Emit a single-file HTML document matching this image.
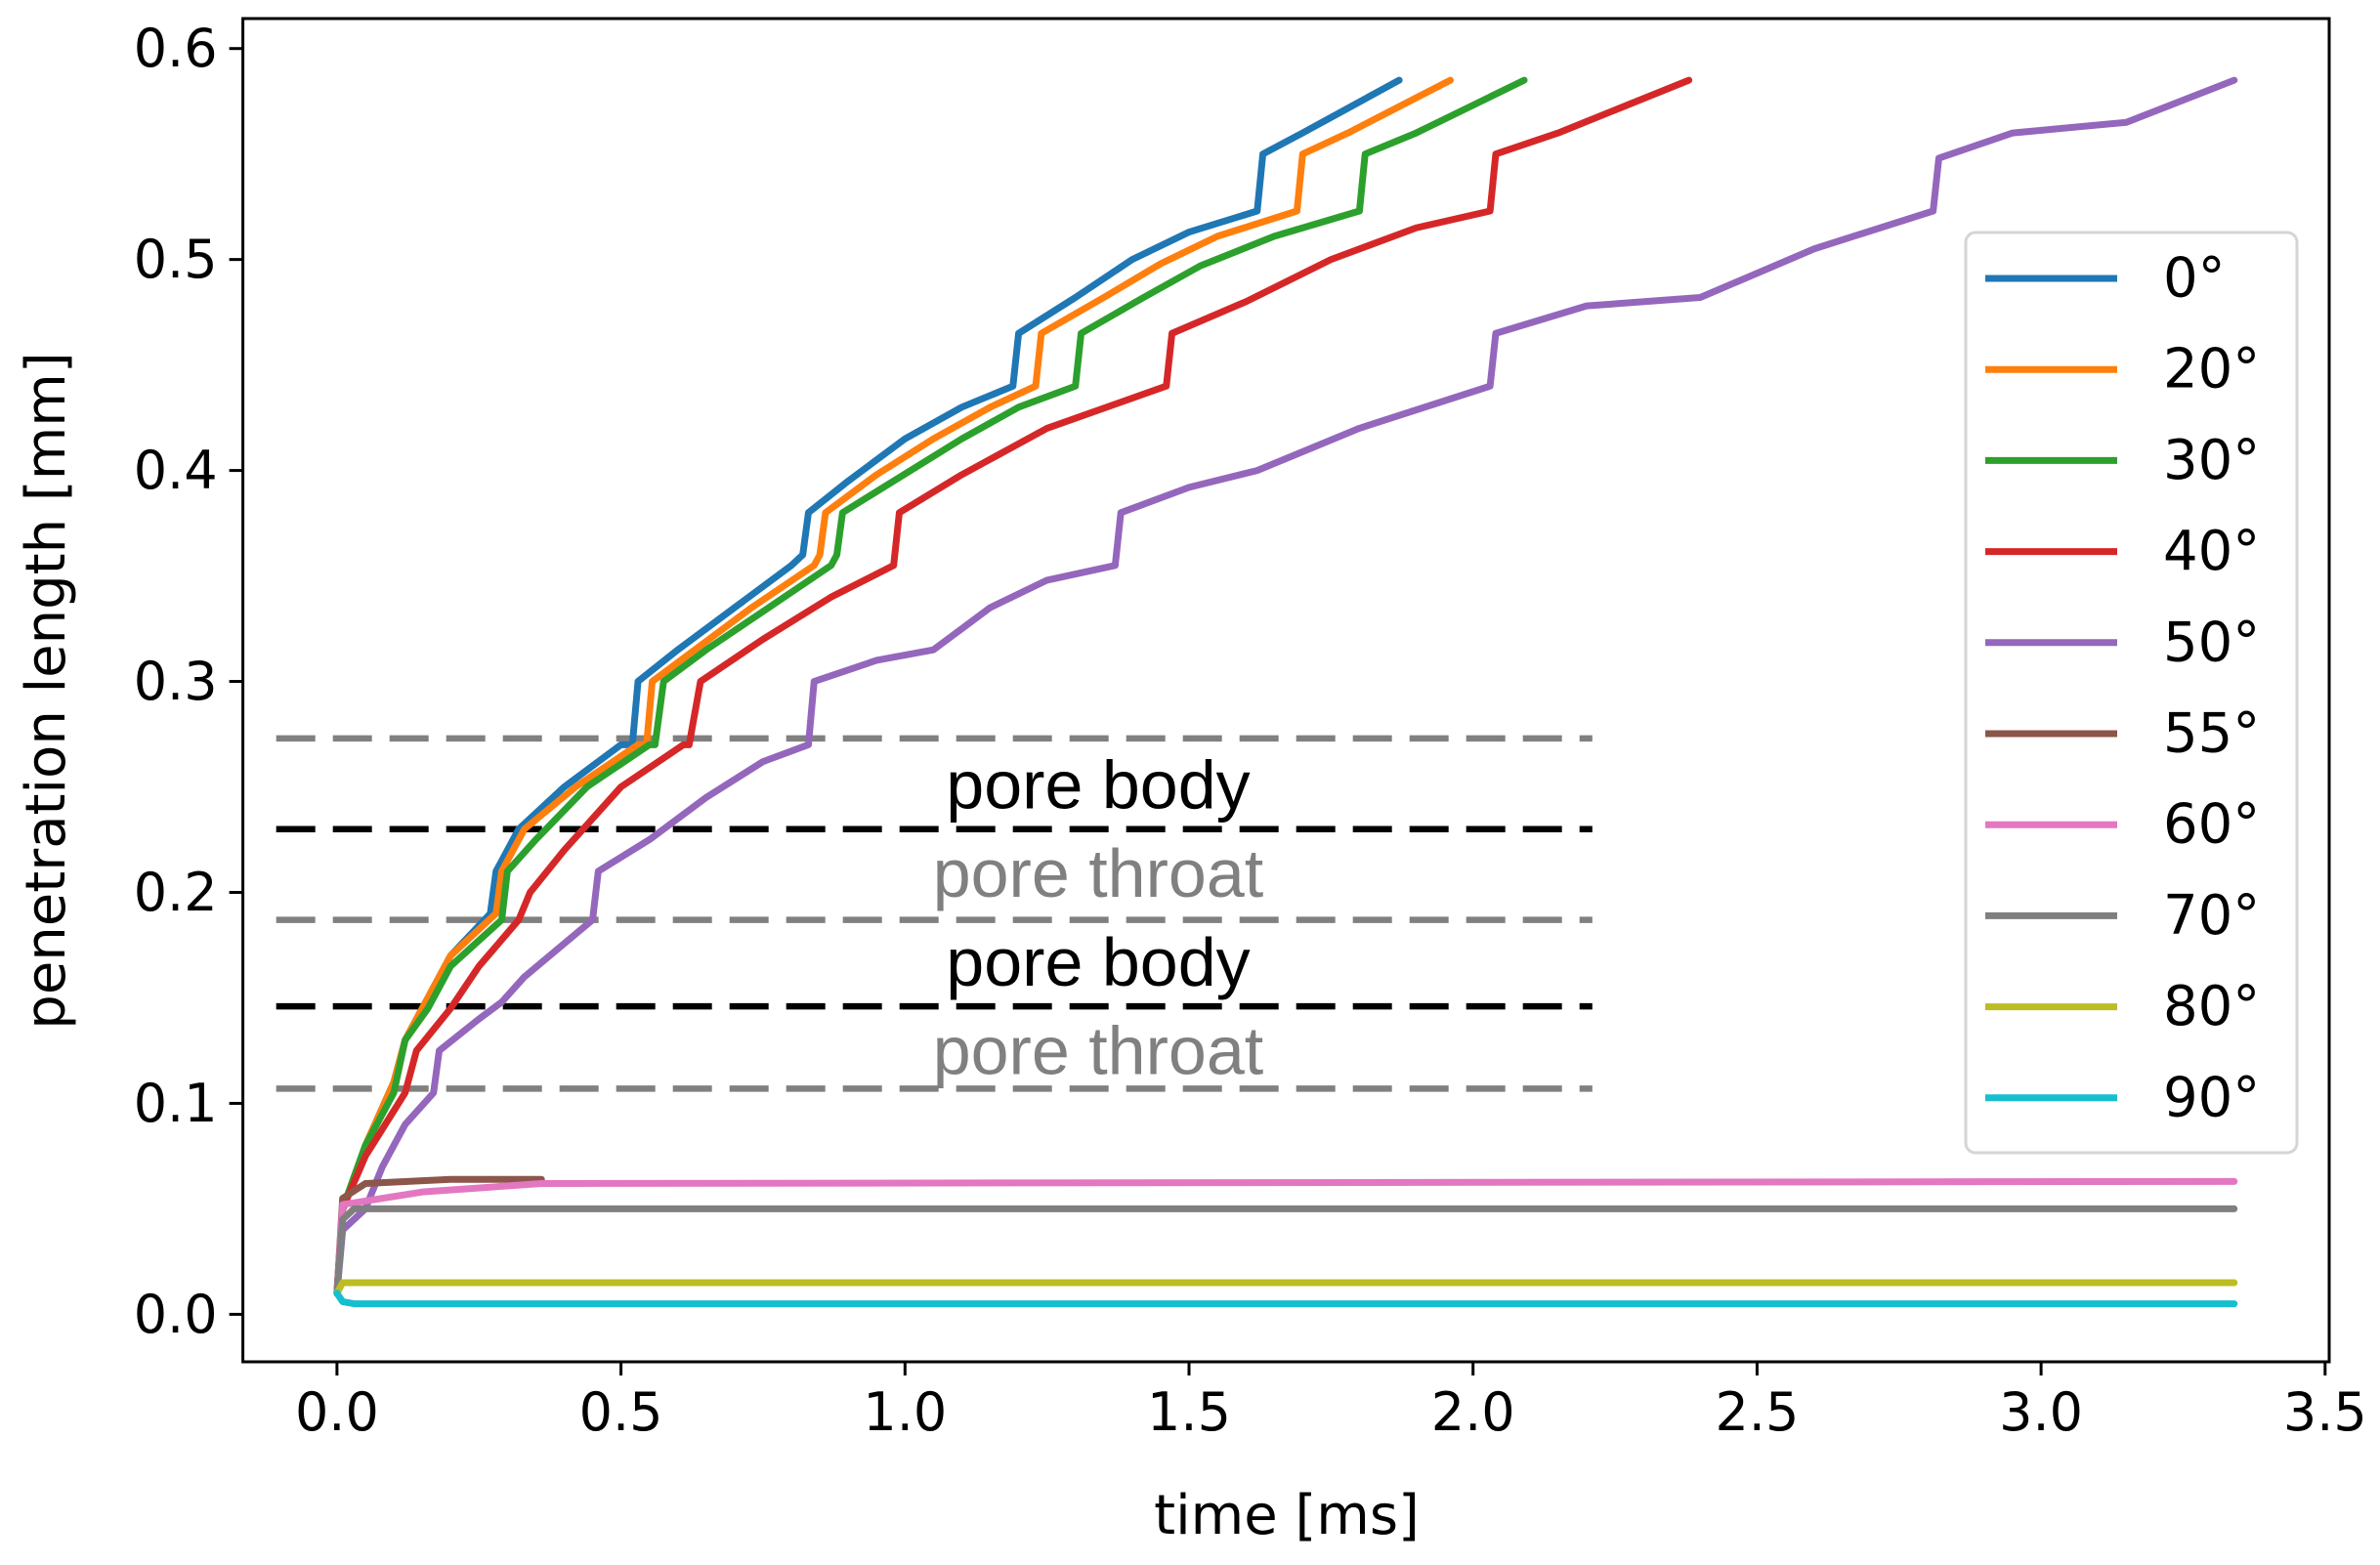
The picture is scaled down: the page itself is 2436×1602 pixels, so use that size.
<!DOCTYPE html>
<html><head><meta charset="utf-8"><style>
html,body{margin:0;padding:0;background:#fff;}
svg{display:block;font-family:"DejaVu Sans","Liberation Sans",sans-serif;}
</style></head><body>
<svg id="chart" width="2436" height="1602" viewBox="0 0 2436 1602" xmlns="http://www.w3.org/2000/svg"></svg>
<script>
const xTicks=[0.0,0.5,1.0,1.5,2.0,2.5,3.0,3.5];
const xTickLabels=["0.0","0.5","1.0","1.5","2.0","2.5","3.0","3.5"];
const yTicks=[0.0,0.1,0.2,0.3,0.4,0.5,0.6];
const yTickLabels=["0.0","0.1","0.2","0.3","0.4","0.5","0.6"];
const seriesNames=["0°","20°","30°","40°","50°","55°","60°","70°","80°","90°"];
const seriesColors=["#1f77b4","#ff7f0e","#2ca02c","#d62728","#9467bd","#8c564b","#e377c2","#7f7f7f","#bcbd22","#17becf"];
const s0=[[0,0.01],[0.01,0.05],[0.05,0.08],[0.1,0.11],[0.12,0.13],[0.16,0.15],[0.2,0.17],[0.27,0.19],[0.28,0.21],[0.32,0.23],[0.4,0.25],[0.5,0.27],[0.52,0.27],[0.53,0.30],[0.6,0.315],[0.7,0.335],[0.8,0.355],[0.82,0.36],[0.83,0.38],[0.9,0.395],[1.0,0.415],[1.1,0.43],[1.19,0.44],[1.2,0.465],[1.3,0.482],[1.4,0.5],[1.5,0.513],[1.62,0.523],[1.63,0.55],[1.7,0.56],[1.87,0.585]];
const s20=[[0,0.01],[0.01,0.05],[0.05,0.08],[0.1,0.11],[0.12,0.13],[0.16,0.15],[0.2,0.17],[0.28,0.19],[0.29,0.21],[0.33,0.23],[0.42,0.25],[0.53,0.27],[0.545,0.27],[0.555,0.30],[0.63,0.315],[0.73,0.335],[0.84,0.355],[0.85,0.36],[0.86,0.38],[0.95,0.398],[1.05,0.415],[1.15,0.43],[1.23,0.44],[1.24,0.465],[1.35,0.482],[1.45,0.498],[1.55,0.511],[1.69,0.523],[1.7,0.55],[1.78,0.56],[1.96,0.585]];
const s30=[[0,0.01],[0.01,0.05],[0.05,0.08],[0.1,0.105],[0.12,0.13],[0.16,0.145],[0.2,0.165],[0.29,0.187],[0.3,0.21],[0.35,0.225],[0.44,0.25],[0.55,0.27],[0.56,0.27],[0.575,0.30],[0.65,0.315],[0.76,0.335],[0.87,0.355],[0.88,0.36],[0.89,0.38],[0.98,0.395],[1.1,0.415],[1.2,0.43],[1.3,0.44],[1.31,0.465],[1.42,0.482],[1.52,0.497],[1.65,0.511],[1.8,0.523],[1.81,0.55],[1.9,0.56],[2.09,0.585]];
const s40=[[0,0.01],[0.01,0.05],[0.05,0.075],[0.12,0.105],[0.14,0.125],[0.2,0.145],[0.25,0.165],[0.32,0.187],[0.34,0.2],[0.4,0.22],[0.5,0.25],[0.61,0.27],[0.62,0.27],[0.64,0.30],[0.75,0.32],[0.87,0.34],[0.98,0.355],[0.99,0.38],[1.1,0.398],[1.25,0.42],[1.46,0.44],[1.47,0.465],[1.6,0.48],[1.75,0.5],[1.9,0.515],[2.03,0.523],[2.04,0.55],[2.15,0.56],[2.38,0.585]];
const s50=[[0,0.01],[0.01,0.04],[0.05,0.05],[0.08,0.07],[0.12,0.09],[0.17,0.105],[0.18,0.125],[0.25,0.14],[0.29,0.148],[0.33,0.16],[0.45,0.187],[0.46,0.21],[0.55,0.225],[0.65,0.245],[0.75,0.262],[0.83,0.27],[0.84,0.30],[0.95,0.31],[1.05,0.315],[1.15,0.335],[1.25,0.348],[1.37,0.355],[1.38,0.38],[1.5,0.392],[1.62,0.4],[1.8,0.42],[2.03,0.44],[2.04,0.465],[2.2,0.478],[2.4,0.482],[2.6,0.505],[2.81,0.523],[2.82,0.548],[2.95,0.56],[3.15,0.565],[3.34,0.585]];
const s55=[[0,0.01],[0.01,0.055],[0.05,0.062],[0.2,0.064],[0.36,0.064]];
const s60=[[0,0.01],[0.01,0.052],[0.15,0.058],[0.36,0.062],[3.34,0.063]];
const s70=[[0,0.01],[0.01,0.045],[0.03,0.05],[3.34,0.05]];
const s80=[[0,0.01],[0.01,0.015],[3.34,0.015]];
const s90=[[0,0.01],[0.01,0.006],[0.03,0.005],[3.34,0.005]];
const allSeries=[s0,s20,s30,s40,s50,s55,s60,s70,s80,s90];
const refLevels=[0.273,0.230,0.187,0.146,0.107];
const refColors=["#808080","#000","#808080","#000","#808080"];
const refXRange=[-0.107,2.21];
const annotTexts=["pore body","pore throat","pore body","pore throat"];
const annotY=[0.251,0.209,0.167,0.125];
const annotColors=["#000","#808080","#000","#808080"];

const NS="http://www.w3.org/2000/svg";
const svg=document.getElementById('chart');
const X=t=>344.9+t*581.4;
const Y=v=>1345.4-v*2159.5;
function mk(tag,attrs,parent){const e=document.createElementNS(NS,tag);for(const k in attrs)e.setAttribute(k,attrs[k]);(parent||svg).appendChild(e);return e;}
const L=248.6,R=2384,T=19,B=1394;
refLevels.forEach((v,i)=>{
  const l=mk('line',{x1:X(refXRange[0]),x2:X(refXRange[1]),y1:Y(v),y2:Y(v),stroke:refColors[i],'stroke-width':6.5,'stroke-dasharray':'40 18'});
  
  
});
annotTexts.forEach((s,i)=>{
  const t=mk('text',{x:X(1.34),y:Y(annotY[i]),'text-anchor':'middle','dominant-baseline':'central','font-size':70,fill:annotColors[i],'font-family':'"Liberation Sans",sans-serif'});
  t.textContent=s;
  
  
});
allSeries.forEach((d,i)=>{
  const p=mk('polyline',{points:d.map(q=>X(q[0])+','+Y(q[1])).join(' '),fill:'none',stroke:seriesColors[i],'stroke-width':7,'stroke-linejoin':'round','stroke-linecap':'round'});
  
  
});
const f=mk('rect',{x:L,y:T,width:R-L,height:B-T,fill:'none',stroke:'#000','stroke-width':3});


xTicks.forEach((t,i)=>{
  const k=mk('line',{x1:X(t),x2:X(t),y1:B,y2:B+14,stroke:'#000','stroke-width':3});
  
  
  const tx=mk('text',{x:X(t),y:B+70,'text-anchor':'middle','font-size':54,fill:'#000'});
  tx.textContent=xTickLabels[i];
  
  
});
yTicks.forEach((v,i)=>{
  const k=mk('line',{x1:L-14,x2:L,y1:Y(v),y2:Y(v),stroke:'#000','stroke-width':3});
  
  
  const tx=mk('text',{x:L-26,y:Y(v),'text-anchor':'end','dominant-baseline':'central','font-size':54,fill:'#000'});
  tx.textContent=yTickLabels[i];
  
  
});
const xt=mk('text',{x:1317,y:1570,'text-anchor':'middle','font-size':56,fill:'#000'});
xt.textContent='time [ms]';


const yt=mk('text',{x:0,y:0,transform:'translate(66,707) rotate(-90)','text-anchor':'middle','font-size':56,fill:'#000'});
yt.textContent='penetration length [mm]';


const lg=mk('rect',{x:2012,y:238,width:339,height:942,rx:10,fill:'#fff',stroke:'#d5d5d5','stroke-width':3});


seriesNames.forEach((n,i)=>{
  const y=285+i*93.2;
  const l=mk('line',{x1:2032,x2:2167,y1:y,y2:y,stroke:seriesColors[i],'stroke-width':7});
  
  
  const t=mk('text',{x:2214,y:y,'dominant-baseline':'central','font-size':56,fill:'#000'});
  t.textContent=n;
  
  
});
</script>
</body></html>
